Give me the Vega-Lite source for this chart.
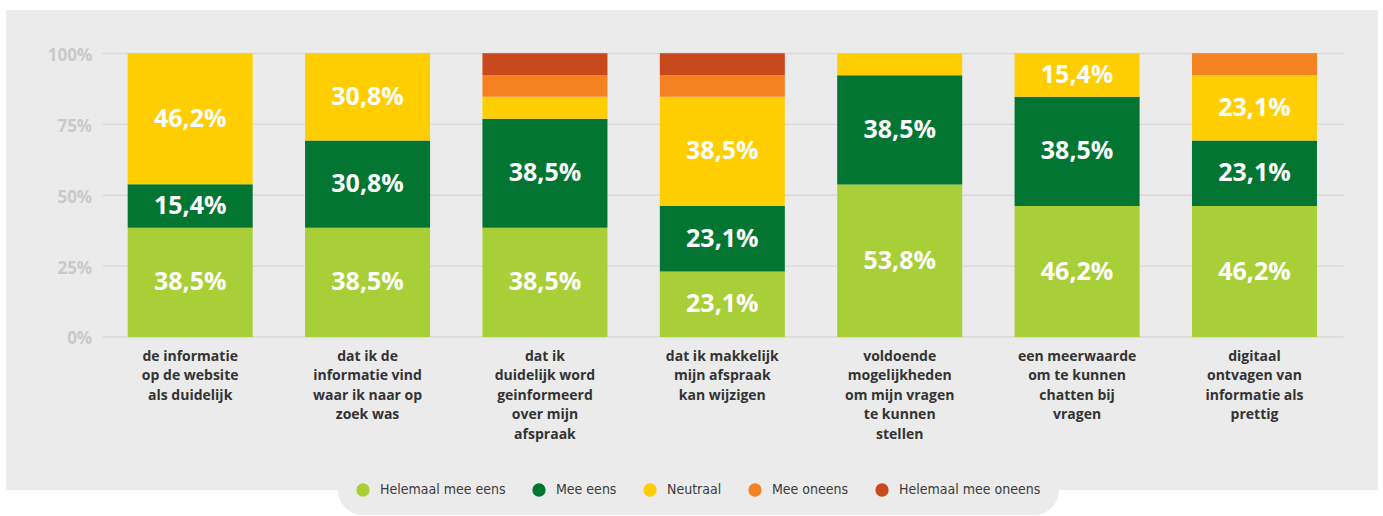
{
  "$schema": "https://vega.github.io/schema/vega-lite/v6.json",
  "width": 1372,
  "height": 480,
  "autosize": {"type": "none"},
  "padding": {"left": 6, "top": 10, "right": 5, "bottom": 26},
  "background": "white",
  "config": {
    "view": {"fill": "#ebebeb", "stroke": null},
    "locale": {"number": {"decimal": ",", "thousands": ".", "grouping": [3], "currency": ["€", ""]}},
    "axisY": {
      "values": [0, 0.25, 0.5, 0.75, 1], "format": ".0%", "offset": -96.7,
      "domain": false, "ticks": false, "tickSize": 0, "labelPadding": 11, "grid": false,
      "labelFont": "Open Sans", "labelFontWeight": "bold", "labelFontSize": 17, "labelOffset": 2,
      "labelColor": "#c9c9c9", "title": null
    }
  },
  "layer": [
    {
      "data": {"values": [{"g": 0}, {"g": 0.25}, {"g": 0.5}, {"g": 0.75}, {"g": 1}]},
      "mark": {"type": "rule", "color": "#d8d8d8", "strokeWidth": 1.3},
      "encoding": {
        "y": {
          "field": "g", "type": "quantitative",
          "scale": {"domain": [-0.5397, 1.1534], "nice": false, "zero": false},
          "axis": {"values": [0, 0.25, 0.5, 0.75, 1], "format": ".0%", "title": null}
        },
        "x": {"datum": 0, "type": "quantitative", "scale": {"domain": [-0.07795, 1.02797], "nice": false, "zero": false}, "axis": null},
        "x2": {"datum": 1}
      }
    },
    {
      "data": {"values": [
        {"q": "de informatie|op de website|als duidelijk", "cat": "Helemaal mee eens", "o": 1, "v": 0.385},
        {"q": "de informatie|op de website|als duidelijk", "cat": "Mee eens", "o": 2, "v": 0.154},
        {"q": "de informatie|op de website|als duidelijk", "cat": "Neutraal", "o": 3, "v": 0.462},
        {"q": "dat ik de|informatie vind|waar ik naar op|zoek was", "cat": "Helemaal mee eens", "o": 1, "v": 0.385},
        {"q": "dat ik de|informatie vind|waar ik naar op|zoek was", "cat": "Mee eens", "o": 2, "v": 0.308},
        {"q": "dat ik de|informatie vind|waar ik naar op|zoek was", "cat": "Neutraal", "o": 3, "v": 0.308},
        {"q": "dat ik|duidelijk word|geinformeerd|over mijn|afspraak", "cat": "Helemaal mee eens", "o": 1, "v": 0.385},
        {"q": "dat ik|duidelijk word|geinformeerd|over mijn|afspraak", "cat": "Mee eens", "o": 2, "v": 0.385},
        {"q": "dat ik|duidelijk word|geinformeerd|over mijn|afspraak", "cat": "Neutraal", "o": 3, "v": 0.077},
        {"q": "dat ik|duidelijk word|geinformeerd|over mijn|afspraak", "cat": "Mee oneens", "o": 4, "v": 0.077},
        {"q": "dat ik|duidelijk word|geinformeerd|over mijn|afspraak", "cat": "Helemaal mee oneens", "o": 5, "v": 0.077},
        {"q": "dat ik makkelijk|mijn afspraak|kan wijzigen", "cat": "Helemaal mee eens", "o": 1, "v": 0.231},
        {"q": "dat ik makkelijk|mijn afspraak|kan wijzigen", "cat": "Mee eens", "o": 2, "v": 0.231},
        {"q": "dat ik makkelijk|mijn afspraak|kan wijzigen", "cat": "Neutraal", "o": 3, "v": 0.385},
        {"q": "dat ik makkelijk|mijn afspraak|kan wijzigen", "cat": "Mee oneens", "o": 4, "v": 0.077},
        {"q": "dat ik makkelijk|mijn afspraak|kan wijzigen", "cat": "Helemaal mee oneens", "o": 5, "v": 0.077},
        {"q": "voldoende|mogelijkheden|om mijn vragen|te kunnen|stellen", "cat": "Helemaal mee eens", "o": 1, "v": 0.538},
        {"q": "voldoende|mogelijkheden|om mijn vragen|te kunnen|stellen", "cat": "Mee eens", "o": 2, "v": 0.385},
        {"q": "voldoende|mogelijkheden|om mijn vragen|te kunnen|stellen", "cat": "Neutraal", "o": 3, "v": 0.077},
        {"q": "een meerwaarde|om te kunnen|chatten bij|vragen", "cat": "Helemaal mee eens", "o": 1, "v": 0.462},
        {"q": "een meerwaarde|om te kunnen|chatten bij|vragen", "cat": "Mee eens", "o": 2, "v": 0.385},
        {"q": "een meerwaarde|om te kunnen|chatten bij|vragen", "cat": "Neutraal", "o": 3, "v": 0.154},
        {"q": "digitaal|ontvagen van|informatie als|prettig", "cat": "Helemaal mee eens", "o": 1, "v": 0.462},
        {"q": "digitaal|ontvagen van|informatie als|prettig", "cat": "Mee eens", "o": 2, "v": 0.231},
        {"q": "digitaal|ontvagen van|informatie als|prettig", "cat": "Neutraal", "o": 3, "v": 0.231},
        {"q": "digitaal|ontvagen van|informatie als|prettig", "cat": "Mee oneens", "o": 4, "v": 0.077}
      ]},
      "transform": [
        {"stack": "v", "groupby": ["q"], "sort": [{"field": "o", "order": "ascending"}], "as": ["y0", "y1"]},
        {"calculate": "(datum.y0 + datum.y1) / 2", "as": "mid"}
      ],
      "encoding": {
        "x": {
          "field": "q", "type": "nominal", "sort": null,
          "scale": {"paddingInner": 0.2953, "paddingOuter": 0.515, "align": 0.666},
          "axis": {
            "orient": "bottom", "offset": -153, "domain": false, "ticks": false, "tickSize": 0,
            "labelPadding": 12, "labelExpr": "split(datum.label, '|')", "labelAngle": 0,
            "labelFont": "Open Sans", "labelFontWeight": "bold", "labelFontSize": 14,
            "labelColor": "#333333", "labelLineHeight": 19.5, "labelLimit": 250, "title": null, "grid": false
          }
        }
      },
      "layer": [
        {
          "mark": {"type": "bar"},
          "encoding": {
            "y": {
              "field": "y0", "type": "quantitative",
              "scale": {"domain": [-0.5397, 1.1534], "nice": false, "zero": false},
              "axis": {"values": [0, 0.25, 0.5, 0.75, 1], "format": ".0%", "title": null}
            },
            "y2": {"field": "y1"},
            "color": {
              "field": "cat", "type": "nominal",
              "scale": {
                "domain": ["Helemaal mee eens", "Mee eens", "Neutraal", "Mee oneens", "Helemaal mee oneens"],
                "range": ["#a8cf38", "#027533", "#ffce00", "#f48221", "#c8491b"]
              },
              "legend": {
                "title": null, "orient": "none", "legendX": 332, "legendY": 455,
                "direction": "horizontal", "fillColor": "#ebebeb", "cornerRadius": 25, "padding": 18,
                "symbolType": "circle", "symbolSize": 177, "symbolStrokeWidth": 0, "symbolOpacity": 1,
                "labelFont": "DejaVu Sans Condensed, Liberation Sans Narrow, Open Sans",
                "labelFontSize": 14, "labelColor": "#3a3a3a", "labelOffset": 10, "columnPadding": 26
              }
            }
          }
        },
        {
          "transform": [{"filter": "datum.v >= 0.1"}],
          "mark": {"type": "text", "color": "white", "font": "Open Sans", "fontWeight": "bold", "fontSize": 25, "baseline": "middle"},
          "encoding": {
            "y": {"field": "mid", "type": "quantitative"},
            "text": {"field": "v", "type": "quantitative", "format": ".1%"}
          }
        }
      ]
    }
  ],
  "resolve": {"scale": {"x": "independent"}}
}
